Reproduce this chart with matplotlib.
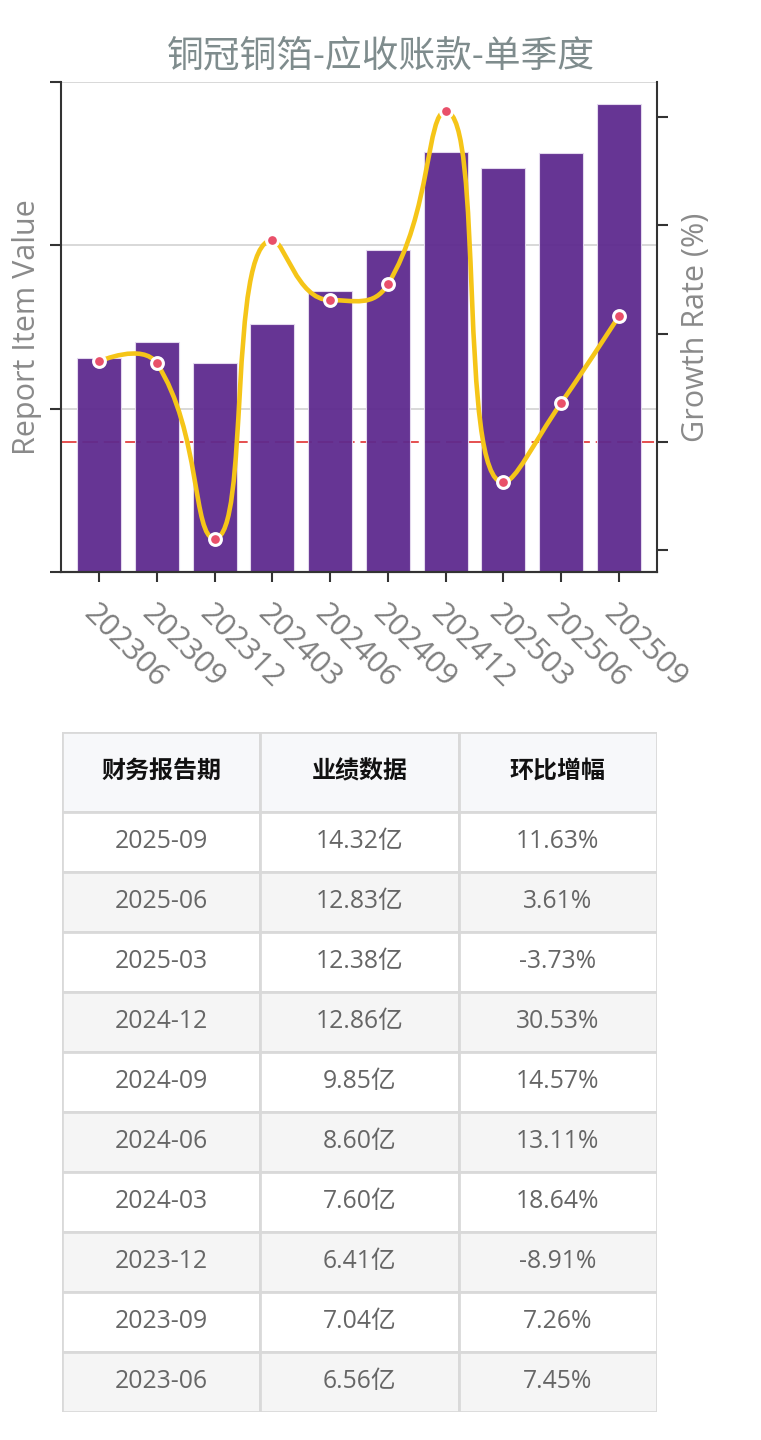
import numpy as np
import matplotlib
matplotlib.use('Agg')
import matplotlib.pyplot as plt
from matplotlib.transforms import blended_transform_factory
from matplotlib.patches import Rectangle, PathPatch
from matplotlib.path import Path

plt.rcParams['font.family'] = ['Open Sans', 'Noto Sans CJK SC', 'DejaVu Sans']

title = '铜冠铜箔-应收账款-单季度'
periods = ['202306', '202309', '202312', '202403', '202406',
           '202409', '202412', '202503', '202506', '202509']
values = [6.56, 7.04, 6.41, 7.60, 8.60, 9.85, 12.86, 12.38, 12.83, 14.32]
growth = [7.45, 7.26, -8.91, 18.64, 13.11, 14.57, 30.53, -3.73, 3.61, 11.63]
table_header = ['财务报告期', '业绩数据', '环比增幅']


def smooth_path(ax, x, y, smooth=0.5):
    # bezier smoothing done in screen space; flat tangent at local
    # extremes, control points kept inside the points' bounding box
    p = ax.transData.transform(np.column_stack([x, y]))
    lo, hi = p.min(axis=0), p.max(axis=0)
    n = len(p)
    verts = [p[0]]
    codes = [Path.MOVETO]
    cp0 = p[0].copy()
    for i in range(1, n):
        cur = p[i]
        if i == n - 1:
            cp1 = cur.copy()
            v = np.zeros(2)
            ratio = 0.5
        else:
            v = p[i + 1] - p[i - 1]
            if (cur[1] - p[i - 1][1]) * (p[i + 1][1] - cur[1]) < 0:
                v[1] = 0
            d0 = np.hypot(*(cur - p[i - 1]))
            d1 = np.hypot(*(p[i + 1] - cur))
            ratio = d1 / (d0 + d1)
            cp1 = cur - v * smooth * (1 - ratio)
        cp0 = np.clip(cp0, lo, hi)
        cp1 = np.clip(cp1, lo, hi)
        verts += [cp0, cp1, cur]
        codes += [Path.CURVE4] * 3
        cp0 = cur + v * smooth * ratio
    verts = ax.transData.inverted().transform(np.array(verts))
    return Path(verts, codes)


W, H = 761, 1440
fig = plt.figure(figsize=(W / 100, H / 100), dpi=100)

ax1 = fig.add_axes([61 / W, 1 - 572 / H, (657 - 61) / W, (572 - 82) / H])
ax2 = ax1.twinx()

x = np.arange(len(periods))
ax1.set_axisbelow(True)
ax1.yaxis.grid(True, color='#d5d5d5', lw=1.3)
ax1.bar(x, values, width=0.76, color='#5e2a8e', alpha=0.95,
        edgecolor='#e6dcf0', linewidth=0.8, zorder=2)
ax1.set_ylim(0, 15)
ax1.set_yticks([0, 5, 10, 15])
ax1.set_xlim(-0.66, len(periods) - 0.34)
ax2.set_ylim(-12, 33.25)
ax2.set_yticks([-10, 0, 10, 20, 30])

# zero line of the growth axis, kept behind the bars
tr = blended_transform_factory(ax1.transAxes, ax2.transData)
ax1.plot([0, 1], [0, 0], transform=tr, color='#e03030', lw=1.4,
         ls=(0, (8, 3)), alpha=0.85, zorder=1)

ax2.add_patch(PathPatch(smooth_path(ax2, x, growth), facecolor='none',
                        edgecolor='#f5c518', lw=3.3, zorder=3,
                        capstyle='round', joinstyle='round'))
ax2.plot(x, growth, 'o', color='#e9506a', ms=8.5, mec='white', mew=2.2, zorder=4)

for ax in (ax1, ax2):
    ax.spines['top'].set_visible(False)
    for s in ('left', 'right', 'bottom'):
        ax.spines[s].set_color('#333333')
        ax.spines[s].set_linewidth(1.5)
    ax.tick_params(axis='y', length=8, width=1.5, color='#333333', labelleft=False, labelright=False)

ax1.spines['right'].set_visible(False)
ax2.spines['left'].set_visible(False)

ax1.set_xticks(x)
ax1.set_xticklabels(periods, rotation=-45, ha='left', va='top',
                    rotation_mode='anchor', fontsize=22, color='#7f7f7f')
ax1.tick_params(axis='x', length=7, width=1.5, color='#333333', pad=12)

ax1.set_ylabel('Report Item Value', fontsize=22, color='#8a8a8a', labelpad=6)
ax2.set_ylabel('Growth Rate (%)', fontsize=22, color='#8a8a8a', labelpad=9)
fig.text(381 / W, 1 - 58 / H, title, ha='center', va='center',
         fontsize=26.5, color='#7f8c8d')

# table
axt = fig.add_axes([62 / W, 1 - 1412 / H, (657 - 62) / W, (1412 - 732) / H])
axt.set_xlim(0, 3)
nrows = len(periods)
head_h = 80 / 60
axt.set_ylim(head_h + nrows, 0)
axt.axis('off')

rows = []
for p, v, g in zip(periods[::-1], values[::-1], growth[::-1]):
    rows.append([p[:4] + '-' + p[4:], f'{v:.2f}亿', f'{g:.2f}%'])

border = '#d9d9d9'
for j, txt in enumerate(table_header):
    axt.add_patch(Rectangle((j, 0), 1, head_h, facecolor='#f7f8fa',
                            edgecolor=border, lw=2))
    axt.text(j + 0.5, head_h / 2, txt, ha='center', va='center',
             fontsize=17.3, fontweight='bold', color='#111111')
for i, row in enumerate(rows):
    y0 = head_h + i
    fc = 'white' if i % 2 == 0 else '#f5f5f5'
    for j, txt in enumerate(row):
        axt.add_patch(Rectangle((j, y0), 1, 1, facecolor=fc,
                                edgecolor=border, lw=2))
        axt.text(j + 0.5, y0 + 0.5, txt, ha='center', va='center',
                 fontsize=17.8, color='#666666')

fig.savefig('out.png', dpi=100)
